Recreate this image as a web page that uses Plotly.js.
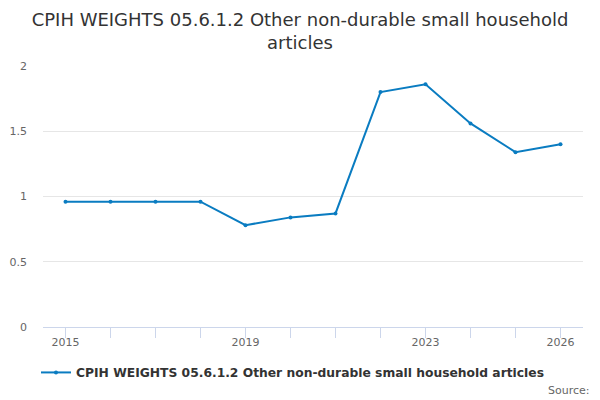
<!DOCTYPE html>
<html>
<head>
<meta charset="utf-8">
<script src="https://cdn.plot.ly/plotly-3.0.1.min.js"></script>
<style>html,body{margin:0;padding:0;background:#fff;}#chart{width:600px;height:400px;}</style>
</head>
<body>
<div id="chart"></div>
<script>
var years = [2015, 2016, 2017, 2018, 2019, 2020, 2021, 2022, 2023, 2024, 2025, 2026];
var values = [0.96, 0.96, 0.96, 0.96, 0.78, 0.84, 0.87, 1.80, 1.86, 1.56, 1.34, 1.40];
var labelledYears = [2015, 2019, 2023, 2026];
var seriesName = "CPIH WEIGHTS 05.6.1.2 Other non-durable small household articles";
var yTicks = [0, 0.5, 1, 1.5, 2];
var yTickText = ["0", "0.5", "1", "1.5", "2"];

var tickText = years.map(function (y) { return labelledYears.indexOf(y) >= 0 ? String(y) : ""; });

var trace = {
  x: years,
  y: values,
  type: "scatter",
  mode: "lines+markers",
  name: seriesName,
  line: {color: "#0a7cc1", width: 2},
  marker: {color: "#0a7cc1", size: 4}
};

var layout = {
  width: 600,
  height: 400,
  paper_bgcolor: "#ffffff",
  plot_bgcolor: "#ffffff",
  font: {family: "DejaVu Sans, sans-serif", color: "#666666", size: 11},
  margin: {l: 43, r: 17, t: 66, b: 73, pad: 0, autoexpand: false},
  title: {
    text: "CPIH WEIGHTS 05.6.1.2 Other non-durable small household<br>articles",
    font: {family: "DejaVu Sans, sans-serif", size: 18, color: "#333333"},
    x: 0.5, xanchor: "center",
    y: 0.935, yanchor: "top"
  },
  xaxis: {
    range: [2014.5, 2026.5],
    tickmode: "array",
    tickvals: years,
    ticktext: tickText,
    ticks: "outside",
    ticklen: 10,
    tickcolor: "#ccd6eb",
    tickwidth: 1,
    ticklabelstandoff: -5,
    showline: true,
    linecolor: "#ccd6eb",
    linewidth: 1,
    showgrid: false,
    zeroline: false,
    tickfont: {size: 11, color: "#666666"},
    fixedrange: true
  },
  yaxis: {
    range: [0, 2],
    tickmode: "array",
    tickvals: yTicks,
    ticktext: yTickText,
    showgrid: true,
    gridcolor: "#e6e6e6",
    gridwidth: 1,
    zeroline: false,
    showline: false,
    ticks: "",
    ticklabelstandoff: 15,
    tickfont: {size: 11, color: "#666666"},
    fixedrange: true
  },
  showlegend: true,
  legend: {
    orientation: "h",
    x: -0.013, xanchor: "left",
    y: -0.1185, yanchor: "top",
    font: {family: "DejaVu Sans, sans-serif", size: 12.3, color: "#333333", weight: "bold"},
    bgcolor: "rgba(0,0,0,0)"
  },
  annotations: [{
    text: "Source:",
    xref: "paper", yref: "paper",
    x: 1.0175, xanchor: "right",
    y: -0.21, yanchor: "top",
    showarrow: false,
    font: {size: 11, color: "#666666"}
  }]
};

Plotly.newPlot("chart", [trace], layout, {displayModeBar: false, staticPlot: true});
</script>
</body>
</html>
